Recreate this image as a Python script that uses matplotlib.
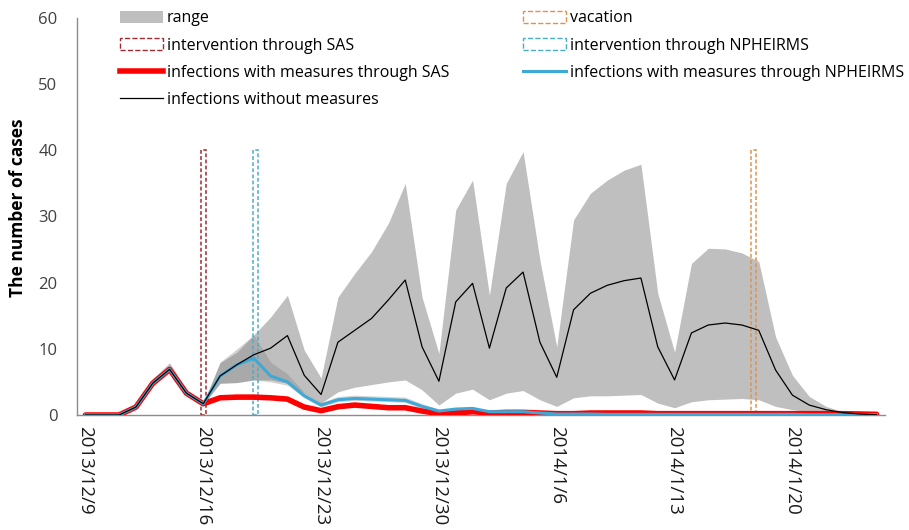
import numpy as np
import pandas as pd
import matplotlib
matplotlib.use("Agg")
import matplotlib.pyplot as plt
from matplotlib.patches import Patch
from matplotlib.lines import Line2D

plt.rcParams['font.family'] = ['Open Sans', 'DejaVu Sans']

# ------------- data -------------------
dates = pd.date_range('2013-12-09', periods=48, freq='D')

without = [0, 0, 0, 1.2, 4.8, 6.9, 3.3, 1.7, 5.9, 7.6, 9.1, 10.1, 12.0, 6.0, 3.1, 11.0,
           12.8, 14.6, 17.4, 20.4, 10.3, 5.1, 17.1, 19.9, 10.1, 19.2, 21.6, 11.0, 5.7, 15.9,
           18.4, 19.6, 20.3, 20.7, 10.3, 5.3, 12.4, 13.6, 13.9, 13.6, 12.8, 6.8, 3.0, 1.5,
           0.8, 0.35, 0.15, 0.05]
range_hi = [0.1, 0.1, 0.1, 1.5, 5.5, 7.9, 3.8, 1.8, 7.9, 9.5, 12.1, 14.8, 18.1, 9.8, 5.6, 17.8,
            21.4, 24.7, 29.0, 35.0, 17.8, 9.3, 31.0, 35.5, 18.1, 35.0, 39.8, 23.4, 10.3, 29.5,
            33.5, 35.5, 37.0, 37.9, 18.4, 9.5, 22.9, 25.2, 25.1, 24.5, 23.2, 11.8, 6.0, 2.8,
            1.3, 0.5, 0.2, 0.1]
range_lo = [0, 0, 0, 1.0, 4.3, 6.4, 2.9, 1.6, 4.8, 4.9, 5.3, 5.3, 4.8, 3.3, 1.8, 3.5,
            4.2, 4.6, 5.0, 5.3, 3.8, 1.5, 3.3, 3.9, 2.3, 3.3, 3.7, 2.3, 1.3, 2.6,
            2.9, 2.9, 3.0, 3.1, 1.8, 1.1, 2.0, 2.3, 2.4, 2.5, 2.3, 1.3, 0.8, 0.5,
            0.3, 0.2, 0.1, 0.05]
sas = [0, 0, 0, 1.2, 4.8, 6.9, 3.3, 1.7, 2.6, 2.7, 2.7, 2.6, 2.4, 1.2, 0.65, 1.25,
       1.5, 1.3, 1.1, 1.1, 0.6, 0.2, 0.3, 0.5, 0.3, 0.4, 0.4, 0.3, 0.2, 0.2,
       0.3, 0.3, 0.3, 0.3, 0.2, 0.2, 0.2, 0.2, 0.2, 0.2, 0.2, 0.2, 0.2, 0.2,
       0.2, 0.2, 0.15, 0.1]
npheirms = [0, 0, 0, 1.2, 4.8, 6.9, 3.3, 1.7, 5.9, 7.6, 8.6, 5.9, 5.0, 2.9, 1.5, 2.3,
            2.5, 2.4, 2.3, 2.2, 1.3, 0.6, 0.9, 1.0, 0.5, 0.5, 0.5, 0.3, 0.15, 0.15,
            0.15, 0.1, 0.1, 0.1, 0.1, 0.1, 0.1, 0.1, 0.1, 0.1, 0.1, 0.1, 0.1, 0.05,
            0.05, 0.05, 0.05, 0.05]

# range of the NPHEIRMS scenario (days 7..21)
nph_idx = list(range(7, 22))
nph_hi = [1.8, 8.0, 10.0, 12.1, 8.0, 6.2, 3.4, 1.9, 2.8, 3.0, 2.9, 2.8, 2.7, 1.7, 0.9]
nph_lo = [1.6, 4.8, 4.9, 5.3, 5.0, 4.5, 2.6, 1.2, 2.0, 2.2, 2.1, 2.0, 1.9, 1.0, 0.4]

# event markers (day index, height)
sas_day, nph_day, vac_day = 7, 10.1, 39.7
marker_h = 40

# ------------- plot -------------------
x = np.arange(len(dates))
fig = plt.figure(figsize=(9.09, 5.30), dpi=100)
ax = fig.add_axes([77/909, 1-415/530, 808/909, 397/530])

ax.fill_between(x, range_lo, range_hi, color='#BFBFBF', lw=0, zorder=1)
ax.fill_between(nph_idx, nph_lo, nph_hi, color='#808080', alpha=0.35, lw=0, zorder=1.5)

dash = (0, (2.5, 1.5))
ax.bar([sas_day], [marker_h], width=0.3, fill=False, edgecolor='#9E2B30',
       linestyle=dash, linewidth=1.1, zorder=2)
ax.bar([nph_day], [marker_h], width=0.3, fill=False, edgecolor='#4BACC6',
       linestyle=dash, linewidth=1.1, zorder=2)
ax.bar([vac_day], [marker_h], width=0.3, fill=False, edgecolor='#E0924A',
       linestyle=dash, linewidth=1.1, zorder=2)

ax.plot(x, sas, color='#FF0000', lw=4.0, solid_capstyle='round', zorder=3)
ax.plot(x, npheirms, color='#3EA9D6', lw=2.2, zorder=4)
ax.plot(x, without, color='black', lw=0.9, zorder=5)

ax.set_xlim(-0.5, len(dates) - 0.5)
ax.set_ylim(0, 60)
ax.set_yticks(range(0, 61, 10))
ax.tick_params(axis='y', length=0, pad=14, labelsize=12, labelcolor='#404040')
ticks = x[::7]
ax.set_xticks(ticks)
ax.set_xticklabels([f"{d.year}/{d.month}/{d.day}" for d in dates[::7]],
                   rotation=270, ha='center', va='top')
ax.tick_params(axis='x', length=0, pad=8, labelsize=13.5, labelcolor='#1A1A1A')
for s in ['top', 'right']:
    ax.spines[s].set_visible(False)
for s in ['left', 'bottom']:
    ax.spines[s].set_color('#8C8C8C')
    ax.spines[s].set_linewidth(1.0)

fig.text(18/909, 1-208/530, 'The number of cases', rotation=90, ha='center',
         va='center', fontsize=12.5, fontweight='bold')

handles = [
    Patch(facecolor='#BFBFBF', edgecolor='none'),
    Patch(facecolor='none', edgecolor='#9E2B30', linestyle='--', linewidth=1),
    Line2D([], [], color='#FF0000', lw=4.0),
    Line2D([], [], color='black', lw=0.9),
    Patch(facecolor='none', edgecolor='#E0924A', linestyle='--', linewidth=1),
    Patch(facecolor='none', edgecolor='#4BACC6', linestyle='--', linewidth=1),
    Line2D([], [], color='#3EA9D6', lw=2.2),
]
labels = ['range', 'intervention through SAS', 'infections with measures through SAS',
          'infections without measures', 'vacation', 'intervention through NPHEIRMS',
          'infections with measures through NPHEIRMS']
fig.legend(handles, labels, ncol=2, loc='upper left', bbox_to_anchor=(120/909, 1-10.5/530),
           frameon=False, fontsize=11.5, handlelength=2.7, handletextpad=0.25,
           columnspacing=4.6, labelspacing=0.69, borderpad=0, borderaxespad=0)

fig.savefig('out.png', dpi=100)
